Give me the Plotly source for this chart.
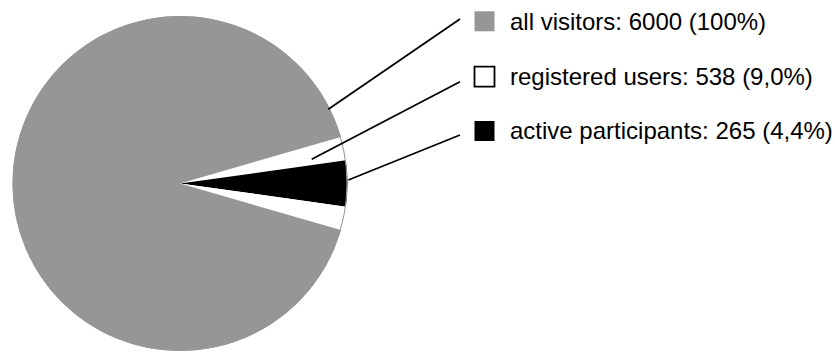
import plotly.graph_objects as go

# ---- data ----
categories = ["all visitors", "registered users", "active participants"]
counts = [6000, 538, 265]
pct_labels = ["100%", "9,0%", "4,4%"]
colors = ["#969696", "#ffffff", "#000000"]

W, H = 835, 352

# slices: white (registered but not active) split around the black (active) wedge
total, registered, active = counts
reg_only_half = (registered - active) / 2
slice_values = [reg_only_half, active, reg_only_half, total - registered]
slice_colors = [colors[1], colors[2], colors[1], colors[0]]

# pie geometry in pixels
cx, cy, r = 180.0, 183.5, 167.5
dom_x = [(cx - r) / W, (cx + r) / W]
dom_y = [1 - (cy + r) / H, 1 - (cy - r) / H]

# rotation so that wedges are centered on 3 o'clock
rot = 90 - (registered / total) * 360 / 2

fig = go.Figure()
fig.add_trace(go.Pie(
    values=slice_values,
    marker=dict(colors=slice_colors, line=dict(width=0)),
    sort=False,
    direction="clockwise",
    rotation=rot,
    textinfo="none",
    hoverinfo="skip",
    showlegend=False,
    domain=dict(x=dom_x, y=dom_y),
))
# thin outline ring
fig.add_trace(go.Pie(
    values=[1],
    hole=0.994,
    marker=dict(colors=["#969696"], line=dict(width=0)),
    textinfo="none",
    hoverinfo="skip",
    showlegend=False,
    sort=False,
    domain=dict(x=dom_x, y=dom_y),
))

def px(x):
    return x / W

def py(y):
    return 1 - y / H

shapes = []
# leader lines (pixel anchors)
leaders = [((328.3, 109.3), (460, 19)),
           ((311.7, 159.3), (460, 81.7)),
           ((348.3, 180.0), (460, 135))]
for (x0, y0), (x1, y1) in leaders:
    shapes.append(dict(type="line", xref="paper", yref="paper",
                       x0=px(x0), y0=py(y0), x1=px(x1), y1=py(y1),
                       line=dict(color="black", width=1.8)))

row_centers = [21.3, 76.7, 131.0]
annotations = []
for i, (cat, cnt, pct) in enumerate(zip(categories, counts, pct_labels)):
    yc = row_centers[i]
    border = "black" if colors[i] == "#ffffff" else colors[i]
    lw = 1.8 if colors[i] == "#ffffff" else 0
    shapes.append(dict(type="rect", xref="paper", yref="paper",
                       x0=px(474.5), x1=px(494.5), y0=py(yc - 10), y1=py(yc + 10),
                       fillcolor=colors[i], line=dict(color=border, width=lw)))
    annotations.append(dict(xref="paper", yref="paper", x=px(508), y=py(yc),
                            xanchor="left", yanchor="middle", showarrow=False,
                            text=f"{cat}: {cnt} ({pct})",
                            font=dict(family="Liberation Sans, Arial, sans-serif",
                                      size=24, color="black")))

fig.update_layout(
    width=W, height=H,
    margin=dict(l=0, r=0, t=0, b=0),
    paper_bgcolor="white", plot_bgcolor="white",
    shapes=shapes, annotations=annotations,
    showlegend=False,
)

fig.write_html("out.html")
